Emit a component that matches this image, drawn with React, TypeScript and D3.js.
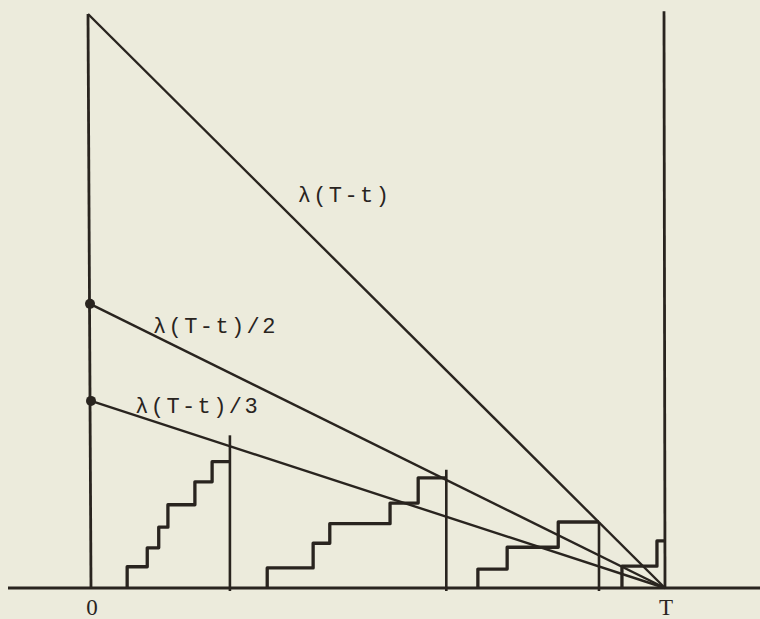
import React from "react";
import * as d3 from "d3";

// time axis: t in [0, T] with T = 1 ; levels as a fraction of λT
const T = 1;
const curveLabels = ["λ(T-t)", "λ(T-t)/2", "λ(T-t)/3"];
const curveDivisors = [1, 2, 3];
const curveIntercepts = [1.0, 0.495, 0.326];
const dotCurves = [1, 2];

// staircase sample paths: jump times and levels after each jump, end time
const stair1Times = [0.063, 0.098, 0.118, 0.134, 0.181, 0.211];
const stair1Levels = [0.037, 0.07, 0.106, 0.145, 0.185, 0.22];
const stair1End = 0.242;
const stair1Mark = 0.266;

const stair2Times = [0.307, 0.387, 0.416, 0.521, 0.57];
const stair2Levels = [0.035, 0.078, 0.112, 0.148, 0.192];
const stair2End = 0.619;
const stair2Mark = 0.206;

const stair3Times = [0.674, 0.725, 0.814];
const stair3Levels = [0.033, 0.071, 0.115];
const stair3End = 0.885;
const stair3Mark = 0.115;

const stair4Times = [0.925, 0.986];
const stair4Levels = [0.038, 0.082];
const stair4End = 1.0;

const tickLabels = ["0", "T"];
const tickValues = [0, T];

const W = 760;
const H = 619;

export default function App() {
  const x = d3.scaleLinear().domain([0, T]).range([91, 665]);
  const y = d3.scaleLinear().domain([0, 1]).range([588, 14]);
  const ink = "#29241f";

  const stepLine = d3
    .line<[number, number]>()
    .x((d) => x(d[0]))
    .y((d) => y(d[1]))
    .curve(d3.curveStepAfter);

  const stairs = [
    { times: stair1Times, levels: stair1Levels, end: stair1End, mark: stair1Mark },
    { times: stair2Times, levels: stair2Levels, end: stair2End, mark: stair2Mark },
    { times: stair3Times, levels: stair3Levels, end: stair3End, mark: stair3Mark },
    { times: stair4Times, levels: stair4Levels, end: stair4End, mark: null as number | null },
  ];

  const stairPath = (s: { times: number[]; levels: number[]; end: number }) => {
    const pts: [number, number][] = [[s.times[0], 0]];
    s.times.forEach((t, i) => pts.push([t, s.levels[i]]));
    pts.push([s.end, s.levels[s.levels.length - 1]]);
    return stepLine(pts) || "";
  };

  const labelPos = [
    { t: 0.36, baseline: 202 },
    { t: 0.108, baseline: 333 },
    { t: 0.077, baseline: 413 },
  ];

  return (
    <div style={{ position: "absolute", left: 0, top: 0, width: W, height: H }}>
      <svg width={W} height={H} style={{ display: "block", background: "#ecebdc" }}>
        <rect x={0} y={0} width={W} height={H} fill="#ecebdc" />
        {/* horizontal axis */}
        <line x1={8} x2={760} y1={y(0)} y2={y(0)} stroke={ink} strokeWidth={2.8} />
        {/* left vertical axis */}
        <line x1={x(0) - 3} x2={x(0)} y1={y(1)} y2={y(0)} stroke={ink} strokeWidth={2.8} />
        {/* right vertical at T */}
        <line x1={x(T) - 1} x2={x(T)} y1={y(1.005)} y2={y(0)} stroke={ink} strokeWidth={2.8} />

        {/* curves λ(T-t)/k */}
        {curveDivisors.map((k, i) => (
          <line
            key={k}
            x1={x(0) - (i === 0 ? 3 : i === 1 ? 1 : 0)}
            y1={y(curveIntercepts[i])}
            x2={x(T)}
            y2={y(0)}
            stroke={ink}
            strokeWidth={2.4}
          />
        ))}
        {dotCurves.map((i) => (
          <circle key={i} cx={x(0) - (i === 1 ? 1 : 0)} cy={y(curveIntercepts[i])} r={5} fill={ink} />
        ))}

        {/* staircases */}
        {stairs.map((s, i) => (
          <path key={i} d={stairPath(s)} fill="none" stroke={ink} strokeWidth={3.3} strokeLinejoin="round" />
        ))}
        {stairs.map((s, i) =>
          s.mark !== null ? (
            <line
              key={"m" + i}
              x1={x(s.end)}
              x2={x(s.end)}
              y1={y(s.mark)}
              y2={y(0) + 3}
              stroke={ink}
              strokeWidth={2.6}
            />
          ) : null
        )}

        {/* curve labels */}
        {curveLabels.map((lab, i) => (
          <text
            key={lab}
            x={x(labelPos[i].t)}
            y={labelPos[i].baseline}
            fontFamily="'Liberation Mono', 'DejaVu Sans Mono', monospace"
            fontSize={22}
            letterSpacing={2.4}
            fill={ink}
          >
            {lab}
          </text>
        ))}

        {/* tick labels */}
        {tickLabels.map((lab, i) => (
          <text
            key={lab}
            x={x(tickValues[i]) + 1}
            y={615}
            textAnchor="middle"
            fontFamily="'Liberation Serif', 'DejaVu Serif', serif"
            fontSize={23}
            fill={ink}
          >
            {lab}
          </text>
        ))}
      </svg>
    </div>
  );
}
